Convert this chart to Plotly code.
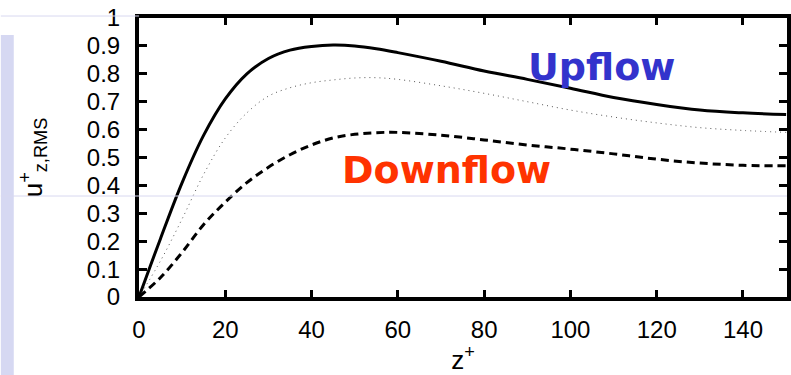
import plotly.graph_objects as go

z_plus = [0, 5, 10, 15, 20, 25, 30, 35, 40, 45, 50, 55, 60, 70, 80, 90, 100, 110, 120, 130, 140, 150]
upflow_rms = [0, 0.21, 0.41, 0.58, 0.71, 0.80, 0.855, 0.885, 0.898, 0.903, 0.90, 0.89, 0.876, 0.845, 0.81, 0.78, 0.748, 0.715, 0.69, 0.67, 0.66, 0.654]
middle_rms = [0, 0.13, 0.28, 0.44, 0.57, 0.66, 0.72, 0.75, 0.768, 0.778, 0.785, 0.786, 0.78, 0.757, 0.73, 0.70, 0.67, 0.645, 0.624, 0.607, 0.597, 0.59]
downflow_rms = [0, 0.07, 0.16, 0.26, 0.34, 0.41, 0.465, 0.51, 0.545, 0.57, 0.583, 0.589, 0.59, 0.58, 0.563, 0.545, 0.53, 0.513, 0.494, 0.48, 0.472, 0.47]

x_ticks = [0, 20, 40, 60, 80, 100, 120, 140]
y_ticks = [0, 0.1, 0.2, 0.3, 0.4, 0.5, 0.6, 0.7, 0.8, 0.9, 1]
y_ticktext = ["0", "0.1", "0.2", "0.3", "0.4", "0.5", "0.6", "0.7", "0.8", "0.9", "1"]

W, H = 791, 375
L, R, T, B = 139, 0, 18, 78
pw, ph = W - L - R, H - T - B

def px(xp):
    return (xp - L) / pw

def py(yp):
    return (H - B - yp) / ph

fig = go.Figure()
fig.add_trace(go.Scatter(x=z_plus, y=upflow_rms, mode="lines", line=dict(color="black", width=3, shape="spline", smoothing=1)))
fig.add_trace(go.Scatter(x=z_plus, y=middle_rms, mode="lines", line=dict(color="#555", width=1, dash="1px,4px", shape="spline", smoothing=1)))
fig.add_trace(go.Scatter(x=z_plus, y=downflow_rms, mode="lines", line=dict(color="black", width=3, dash="8px,5px", shape="spline", smoothing=1)))

font = dict(family="Liberation Sans, Arial, sans-serif", size=24, color="black")
tfont = dict(family="Liberation Sans, Arial, sans-serif", size=26, color="black")

fig.update_layout(
    width=W, height=H,
    margin=dict(l=L, r=R, t=T, b=B, pad=0),
    paper_bgcolor="white", plot_bgcolor="white",
    showlegend=False,
    font=font,
    xaxis=dict(range=[0, 150.2], tickvals=x_ticks, ticks="inside", ticklen=7, tickwidth=3,
               tickcolor="black", showline=True, linewidth=4, linecolor="black", mirror="ticks",
               showgrid=False, zeroline=False, tickfont=font, ticklabelstandoff=8,
               title=dict(text="z<sup>+</sup>", font=tfont, standoff=14)),
    yaxis=dict(range=[0, 1], tickvals=y_ticks, ticktext=y_ticktext, ticks="inside", ticklen=8, tickwidth=3,
               tickcolor="black", showline=True, linewidth=4, linecolor="black", mirror="ticks",
               showgrid=False, zeroline=False, tickfont=font, ticklabelstandoff=10,
               title=dict(text="u<sup>+</sup><sub>z,RMS</sub>", font=tfont, standoff=38)),
    shapes=[
        dict(type="rect", xref="paper", yref="paper", x0=px(0), x1=px(13), y0=py(375), y1=py(35),
             fillcolor="#d6d8f2", line=dict(width=0), layer="below"),
        dict(type="line", xref="paper", yref="paper", x0=px(0), x1=px(791), y0=py(196), y1=py(196),
             line=dict(color="#d8d8f0", width=1)),
        dict(type="line", xref="paper", yref="paper", x0=px(0), x1=px(139), y0=py(16), y1=py(16),
             line=dict(color="#d8d8f0", width=1)),
    ],
    annotations=[
        dict(text="<b>Upflow</b>", xref="paper", yref="paper", x=px(604), y=py(67), showarrow=False,
             xanchor="center", yanchor="middle",
             font=dict(family="DejaVu Sans", size=38, color="#3333cc")),
        dict(text="<b>Downflow</b>", xref="paper", yref="paper", x=px(448), y=py(170), showarrow=False,
             xanchor="center", yanchor="middle",
             font=dict(family="DejaVu Sans", size=38, color="#ff3300")),
    ],
)

fig.write_html("out.html")
